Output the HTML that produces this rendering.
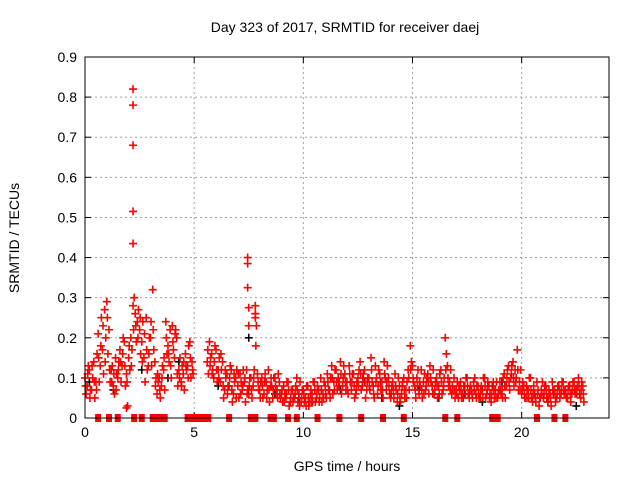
<!DOCTYPE html>
<html><head><meta charset="utf-8"><style>
html,body{margin:0;padding:0;background:#fff;}
svg{display:block;font-family:"Liberation Sans",sans-serif;}
</style></head><body>
<svg id="chart" width="640" height="480" xmlns="http://www.w3.org/2000/svg">
<rect width="640" height="480" fill="#fff"/>
<text x="345" y="32" font-size="14" text-anchor="middle">Day 323 of 2017, SRMTID for receiver daej</text>
<text x="0" y="0" font-size="14" text-anchor="middle" transform="translate(19,238) rotate(-90)">SRMTID / TECUs</text>
<text x="347" y="471" font-size="14" text-anchor="middle">GPS time / hours</text>
<g id="grid"></g>
<g id="axes"></g>
<g id="marks"></g>
<rect x="85" y="57" width="524" height="361" fill="none" stroke="#000" stroke-width="1"/>
</svg>
<script>
const xTicks=[0,5,10,15,20];
const yTicks=[0,0.1,0.2,0.3,0.4,0.5,0.6,0.7,0.8,0.9];
const yTickLabels=["0","0.1","0.2","0.3","0.4","0.5","0.6","0.7","0.8","0.9"];
const valsA=[.10,.08,.12,.07,.14,.09,.21,.13,.17,.27,
.29,.22,.12,.08,.15,.10,.17,.13,.19,.11,
.15,.20,.28,.26,.24,.22,.19,.15,.25,.13,
.20,.32,.14,.06,.10,.08,.12,.24,.18,.22,
.23,.15,.20,.12,.09,.11,.16,.13,.19,.14,
null,null,null,null,null,null,.14,.19,.16,.10,
.17,.12,.09,.14,.07,.11,.08,.12,.06,.10,
.08,.11,.07,.09,.12,.06,.10,.08,.26,.11,
.07,.10,.06,.09,.12,.08,.05,.10,.07,.09,
.06,.08,.05,.09,.04,.07,.05,.10,.06,.04,
.07,.05,.08,.04,.06,.09,.05,.07,.10,.06,
.08,.11,.07,.13,.09,.12,.10,.14,.08,.11,
.09,.13,.07,.11,.06,.10,.14,.08,.12,.07,
.10,.15,.08,.13,.06,.11,.09,.14,.07,.10,
.05,.09,.11,.04,.08,.06,.10,.07,.12,.18,
.13,.08,.10,.06,.12,.09,.07,.11,.13,.08,
.06,.10,.08,.12,.07,.20,.13,.09,.06,.10,
.07,.05,.09,.06,.08,.10,.05,.07,.09,.06,
.08,.05,.07,.10,.06,.08,.04,.09,.07,.05,
.09,.07,.11,.08,.13,.10,.14,.12,.17,.09,
.06,.08,.05,.07,.10,.04,.06,.09,.03,.07,
.05,.08,.04,.06,.09,.07,.05,.08,.06,.09,
.07,.05,.08,.06,.09,.07,.10,.05,.08];
const valsB=[.06,.13,.07,.10,.05,.16,.09,.25,.11,.20,
.16,.09,.13,.06,.11,.14,.09,.20,.08,.03,
.12,.17,.30,.19,.27,.16,.24,.09,.12,.20,
.13,.17,.10,.09,.05,.13,.07,.16,.14,.10,
.17,.22,.08,.15,.13,.07,.12,.18,.10,.11,
null,null,null,null,null,null,.11,.15,.12,.18,
.09,.15,.12,.05,.10,.08,.13,.04,.09,.12,
.05,.09,.12,.04,.07,.10,.05,.12,.23,.07,
.09,.05,.11,.07,.04,.08,.10,.06,.11,.05,
.04,.06,.09,.03,.07,.05,.08,.04,.09,.07,
.04,.08,.03,.07,.09,.04,.08,.05,.04,.09,
.05,.07,.10,.06,.12,.07,.09,.06,.13,.07,
.06,.09,.11,.05,.09,.12,.07,.11,.05,.10,
.07,.09,.05,.10,.12,.07,.05,.10,.13,.06,
.08,.05,.07,.10,.04,.09,.05,.09,.07,.14,
.09,.05,.12,.08,.05,.11,.10,.06,.09,.12,
.09,.05,.11,.06,.10,.16,.08,.12,.07,.05,
.09,.07,.05,.08,.10,.06,.08,.05,.10,.08,
.05,.08,.10,.05,.09,.06,.08,.05,.09,.07,
.06,.10,.05,.12,.07,.13,.08,.10,.07,.12,
.09,.05,.07,.10,.05,.08,.04,.07,.05,.09,
.08,.05,.07,.03,.06,.04,.08,.05,.09,.06,
.05,.08,.04,.09,.06,.08,.06,.09,.04];
const valsC=[.08,.11,.05,.13,.09,.07,.15,.18,.23,.14,
.25,.12,.09,.11,.07,.12,.14,.16,.13,.09,
.18,.13,.22,.23,.20,.25,.14,.21,.17,.16,
.24,.22,.08,.11,.07,.10,.15,.20,.16,.13,
.19,.21,.11,.10,.08,.14,.13,.10,.15,.12,
null,null,null,null,null,null,.17,.13,.11,.14,
.12,.10,.16,.08,.12,.06,.10,.07,.11,.05,
.11,.06,.08,.10,.06,.08,.07,.10,.18,.09,
.05,.08,.09,.05,.07,.10,.07,.08,.05,.06,
.07,.04,.06,.07,.05,.04,.06,.07,.03,.05,
.06,.03,.05,.06,.04,.07,.06,.04,.07,.05,
.06,.09,.05,.10,.07,.09,.08,.11,.10,.09,
.07,.11,.09,.08,.07,.08,.11,.10,.09,.09,
.08,.12,.06,.09,.08,.09,.07,.11,.09,.08,
.06,.07,.08,.06,.05,.08,.07,.05,.10,.12,
.10,.07,.08,.09,.07,.06,.08,.09,.10,.06,
.07,.08,.06,.09,.08,.12,.10,.07,.08,.07,
.06,.08,.07,.05,.06,.08,.07,.06,.07,.05,
.06,.07,.05,.08,.07,.05,.06,.07,.05,.06,
.07,.05,.08,.10,.09,.11,.10,.09,.12,.07,
.07,.06,.08,.05,.07,.06,.05,.06,.05,.06,
.06,.07,.05,.05,.07,.06,.06,.07,.07,.07,
.06,.07,.06,.07,.07,.06,.08,.07,.06];
const outT=[2.2,2.2,2.2,2.2,2.2,7.45,7.45,7.45,7.5,7.5,7.8,7.8,7.8,1.9];
const outV=[.82,.78,.68,.515,.435,.40,.385,.325,.275,.23,.28,.26,.25,.025];
const blackT=[0.2,1.3,2.6,3.8,4.3,6.1,7.5,8.7,9.8,10.4,11.7,12.8,13.6,14.4,15.3,16.2,17.4,18.2,19.1,20.3,21.2,22.5];
const blackV=[.09,.07,.12,.10,.14,.08,.20,.06,.05,.04,.07,.09,.05,.03,.07,.05,.06,.04,.09,.05,.04,.03];
const gapT=[0.6,1.1,1.5,2.25,2.6,3.1,3.25,3.4,3.55,3.65,4.7,4.95,5.1,5.3,5.5,5.65,6.6,7.6,7.8,8.5,8.65,9.3,9.7,10.65,11.65,12.65,13.65,14.6,16.5,17.05,18.65,18.9,20.7,21.5,22.0];
const X0=85,X1=609,Y0=418,Y1=57;
const xs=t=>X0+t/24*(X1-X0);
const ys=v=>Y0-v/0.9*(Y0-Y1);
const NS="http://www.w3.org/2000/svg";
function mk(tag,attrs,parent){const e=document.createElementNS(NS,tag);for(const k in attrs)e.setAttribute(k,attrs[k]);parent.appendChild(e);return e;}
const grid=document.getElementById('grid'),axes=document.getElementById('axes'),marks=document.getElementById('marks');
xTicks.forEach(t=>{const x=xs(t);
 if(t>0){const g=mk('line',{x1:x,x2:x,y1:Y1,y2:Y0,stroke:'#a0a0a0','stroke-dasharray':'2,3'},grid);
 
 }
 mk('line',{x1:x,x2:x,y1:Y0,y2:Y0-6,stroke:'#000'},axes);
 mk('line',{x1:x,x2:x,y1:Y1,y2:Y1+6,stroke:'#000'},axes);
 const tx=mk('text',{x:x,y:Y0+19,'font-size':14,'text-anchor':'middle'},axes);tx.textContent=String(t);
 
 });
yTicks.forEach((v,i)=>{const y=ys(v);
 if(v>0&&v<0.9){const g=mk('line',{x1:X0,x2:X1,y1:y,y2:y,stroke:'#a0a0a0','stroke-dasharray':'2,3'},grid);
 
 }
 mk('line',{x1:X0,x2:X0+6,y1:y,y2:y,stroke:'#000'},axes);
 mk('line',{x1:X1,x2:X1-6,y1:y,y2:y,stroke:'#000'},axes);
 const tx=mk('text',{x:X0-8,y:y+5,'font-size':14,'text-anchor':'end'},axes);tx.textContent=yTickLabels[i];
 
 });
function plus(t,v,col){const x=xs(t),y=ys(v);
 const p=mk('path',{d:`M${x-4},${y}H${x+4}M${x},${y-4}V${y+4}`,stroke:col,'stroke-width':1.6,fill:'none'},marks);
 
 }
blackT.forEach((t,i)=>plus(t,blackV[i],'#000'));
valsA.forEach((v,i)=>{if(v!==null)plus(i/10,v,'#f00');});
valsB.forEach((v,i)=>{if(v!==null)plus(i/10+0.05,v,'#f00');});
valsC.forEach((v,i)=>{if(v!==null)plus(i/10+0.025,v,'#f00');});
outT.forEach((t,i)=>plus(t,outV[i],'#f00'));
gapT.forEach(t=>{const r=mk('rect',{x:xs(t)-3,y:Y0-4,width:6,height:8,fill:'#f00'},marks);
 
 });
</script>
</body></html>
